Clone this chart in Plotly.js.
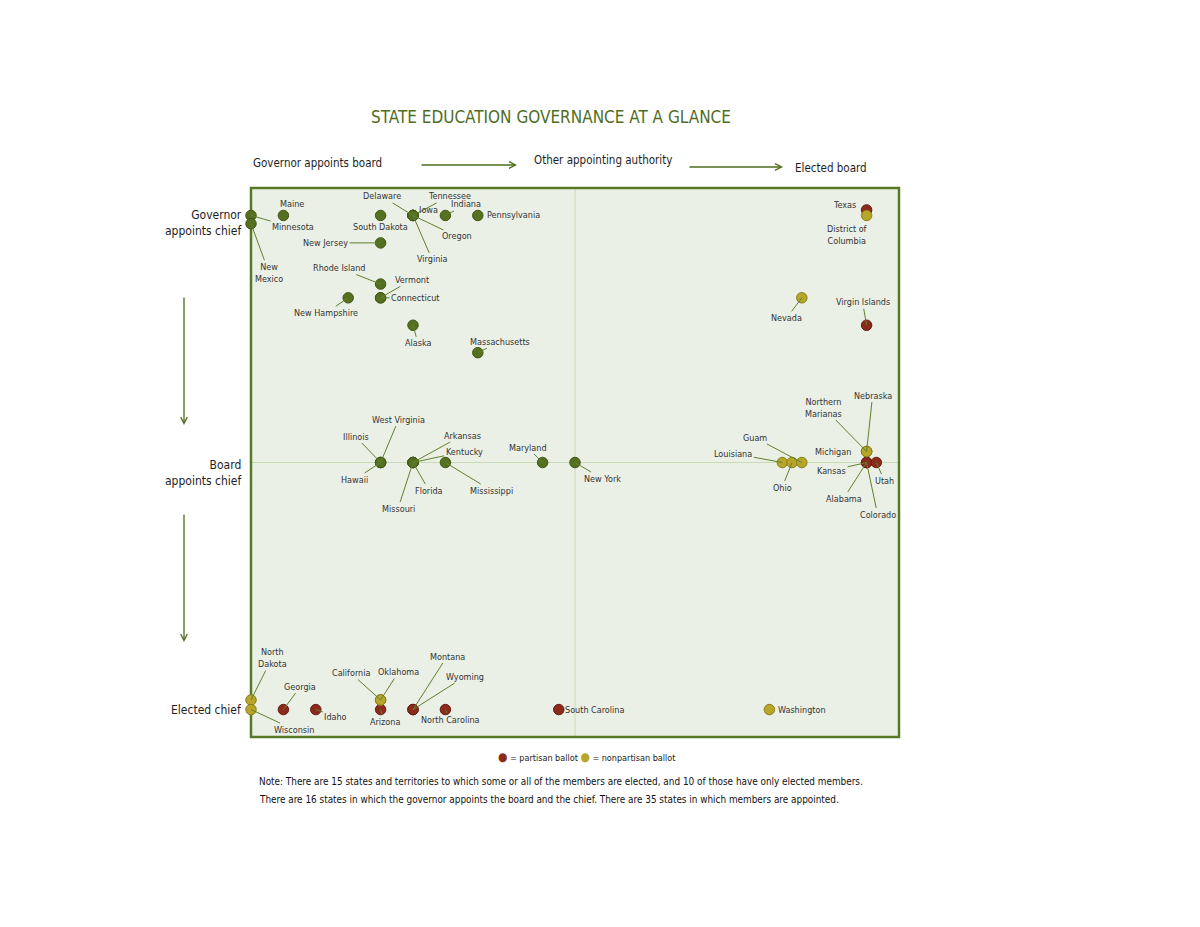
<!DOCTYPE html>
<html><head><meta charset="utf-8">
<script src="https://cdn.plot.ly/plotly-3.0.1.min.js"></script>
<style>html,body{margin:0;padding:0;background:#fff}</style>
</head><body>
<div id="chart" style="width:1200px;height:927px"></div>
<script>
// ---------------- DATA ----------------
const states = ['Minnesota','New Mexico','Maine','South Dakota','Delaware','Tennessee','Iowa','Oregon','Virginia','Indiana',
  'Pennsylvania','New Jersey','Rhode Island','Vermont','Connecticut','New Hampshire','Alaska','Massachusetts',
  'Illinois','West Virginia','Hawaii','Arkansas','Kentucky','Florida','Missouri','Mississippi','Maryland','New York',
  'Texas','Virgin Islands','Kansas','Alabama','Colorado','Utah','Georgia','Idaho','Arizona','Montana','Wyoming',
  'North Carolina','South Carolina',
  'District of Columbia','Nevada','Louisiana','Ohio','Guam','Michigan','Northern Marianas','Nebraska',
  'North Dakota','Wisconsin','California','Oklahoma','Washington'];
// board selection scale: 0 = governor appoints board ... 10 = other authority ... 20 = elected board
const boardPosition = [0,0,1,4,5,5,5,5,5,6,
  7,4,4,4,4,3,5,7,
  4,4,4,5,5,5,5,6,9,10,
  19,19,19,19,19,19.3,1,2,4,5,5,
  6,9.5,
  19,17,16.4,16.7,17,19,19,19,
  0,0,4,4,16];
// chief selection scale: 20 = governor appoints chief ... 10 = board appoints ... 0 = elected chief
const chiefPosition = [19,18.7,19,19,19,19,19,19,19,19,
  19,18,16.5,16,16,16,15,14,
  10,10,10,10,10,10,10,10,10,10,
  19.2,15,10,10,10,10,1,1,1,1,1,
  1,1,
  19,16,10,10,10,10.4,10.4,10.4,
  1.35,1,1.35,1.35,1];
const ballotType = ['A','A','A','A','A','A','A','A','A','A',
  'A','A','A','A','A','A','A','A',
  'A','A','A','A','A','A','A','A','A','A',
  'P','P','P','P','P','P','P','P','P','P','P',
  'P','P',
  'N','N','N','N','N','N','N','N',
  'N','N','N','N','N'];
const titleText = 'STATE EDUCATION GOVERNANCE AT A GLANCE';
const columnLabels = ['Governor appoints board','Other appointing authority','Elected board'];
const rowLabels = ['Governor<br>appoints chief','Board<br>appoints chief','Elected chief'];
const legendLabels = ['= partisan ballot','= nonpartisan ballot'];
const noteLines = ['Note: There are 15 states and territories to which some or all of the members are elected, and 10 of those have only elected members.',
  'There are 16 states in which the governor appoints the board and the chief. There are 35 states in which members are appointed.'];
const displayName = {'New Mexico':'New<br>Mexico','District of Columbia':'District of<br>Columbia',
  'Northern Marianas':'Northern<br>Marianas','North Dakota':'North<br>Dakota'};

// ---------------- LAYOUT (label placement in pixels: dx, dy, leader line) ----------------
const labelPlacement = {
 'Minnesota':[42,12,1],'New Mexico':[18,49,1],'Maine':[9,-11,0],'South Dakota':[0,12,0],'Delaware':[-31,-19,1],
 'Tennessee':[36,-19,1],'Iowa':[15,-5,0],'Oregon':[44,21,1],'Virginia':[19,44,1],'Indiana':[21,-11,1],
 'Pennsylvania':[36,0,0],'New Jersey':[-55,0,1],'Rhode Island':[-41,-16,1],'Vermont':[31,-18,1],'Connecticut':[35,0,1],
 'New Hampshire':[-22,15,1],'Alaska':[5,18,1],'Massachusetts':[22,-11,1],
 'Illinois':[-25,-26,1],'West Virginia':[18,-43,1],'Hawaii':[-26,17,1],'Arkansas':[49,-27,1],'Kentucky':[51,-11,1],
 'Florida':[16,28,1],'Missouri':[-15,46,1],'Mississippi':[46,28,1],'Maryland':[-15,-15,1],'New York':[27,16,1],
 'Texas':[-22,-5,0],'Virgin Islands':[-4,-23,1],'Kansas':[-35,8,1],'Alabama':[-23,36,1],'Colorado':[11,52,1],
 'Utah':[8,18,1],'Georgia':[17,-23,1],'Idaho':[20,7,1],'Arizona':[4,12,1],'Montana':[34,-53,1],'Wyoming':[52,-33,1],
 'North Carolina':[5,10,1],'South Carolina':[36,0,0],
 'District of Columbia':[-20,20,0],'Nevada':[-15,20,1],'Louisiana':[-49,-9,1],'Ohio':[-10,25,1],'Guam':[-47,-25,1],
 'Michigan':[-34,0,0],'Northern Marianas':[-43,-44,1],'Nebraska':[6,-56,1],
 'North Dakota':[21,-42,1],'Wisconsin':[43,20,1],'California':[-30,-27,1],'Oklahoma':[18,-28,1],'Washington':[33,0,0]
};

const NARROW = '"DejaVu Sans Condensed", "Liberation Sans Narrow", "DejaVu Sans", sans-serif';
const GREEN = '#587a27';
const styles = {
  A:{fill:'#55701f', line:'#415617', name:'appointed board'},
  P:{fill:'#8c2a1c', line:'#641c12', name:'partisan ballot'},
  N:{fill:'#b8a62a', line:'#8a7c18', name:'nonpartisan ballot'}
};

// plot box in pixels
const L = 251, R = 899, T = 188, B = 737;
const px = (x) => (x - L) / (R - L);
const py = (y) => (B - y) / (B - T);

const traces = ['A','P','N'].map(k => {
  const idx = states.map((s,i)=>i).filter(i => ballotType[i] === k);
  return {
    type:'scatter', mode:'markers',
    x: idx.map(i => boardPosition[i]), y: idx.map(i => chiefPosition[i]),
    text: idx.map(i => states[i]), hoverinfo:'text', cliponaxis:false, showlegend:false,
    name: styles[k].name,
    marker:{size:10.5, color:styles[k].fill, line:{color:styles[k].line, width:1}}
  };
});

const annotations = [];
const labelFont = {family:NARROW, size:9, color:'#333333'};
states.forEach((s,i) => {
  const p = labelPlacement[s];
  const t = displayName[s] || s;
  if (p[2]) {
    annotations.push({x:boardPosition[i], y:chiefPosition[i], xref:'x', yref:'y', text:t,
      showarrow:true, arrowhead:0, arrowwidth:1, arrowcolor:'#5f8030', ax:p[0], ay:p[1], standoff:0,
      font:labelFont, align:'center', borderpad:1});
  } else {
    annotations.push({x:boardPosition[i], y:chiefPosition[i], xref:'x', yref:'y', text:t,
      showarrow:false, xshift:p[0], yshift:-p[1], font:labelFont, align:'center'});
  }
});

const headFont = {family:NARROW, size:11.5, color:'#1e1e1e'};
// column headings
[[columnLabels[0],251,163],[columnLabels[1],532,160],[columnLabels[2],793,168]].forEach(c => {
  annotations.push({xref:'paper', yref:'paper', x:px(c[1]), y:py(c[2]), xanchor:'left', yanchor:'middle',
    text:c[0], showarrow:false, font:headFont});
});
// row headings
[[rowLabels[0],223],[rowLabels[1],473],[rowLabels[2],710]].forEach(r => {
  annotations.push({xref:'paper', yref:'paper', x:px(244), y:py(r[1]), xanchor:'right', yanchor:'middle',
    text:r[0], align:'right', showarrow:false, font:{family:NARROW, size:12, color:'#1e1e1e'}});
});
// direction arrows
[[517,165,-97,0],[783,167,-95,0],[184,425,0,-129],[184,642,0,-129]].forEach(a => {
  annotations.push({xref:'paper', yref:'paper', x:px(a[0]), y:py(a[1]), ax:a[2], ay:a[3], text:'',
    showarrow:true, arrowhead:5, arrowsize:1, arrowwidth:1.3, arrowcolor:'#4f6d1f', standoff:0});
});
// legend
annotations.push({xref:'paper', yref:'paper', x:px(496), y:py(757), xanchor:'left', yanchor:'middle', showarrow:false,
  text:'<span style="color:'+styles.P.fill+';font-size:12px">●</span> '+legendLabels[0]+' <span style="color:'+styles.N.fill+';font-size:12px">●</span> '+legendLabels[1],
  font:{family:NARROW, size:9, color:'#222'}});
// note
noteLines.forEach((n,i) => {
  annotations.push({xref:'paper', yref:'paper', x:px(257), y:py(781 + i*18), xanchor:'left', yanchor:'middle',
    showarrow:false, text:n, font:{family:NARROW, size:9.9, color:'#111'}});
});

const layout = {
  width:1200, height:927,
  margin:{l:L, r:1200-R, t:T, b:927-B, pad:0},
  paper_bgcolor:'#ffffff', plot_bgcolor:'#ebf0e6',
  title:{text:titleText, xref:'paper', x:px(551), xanchor:'center', yref:'container', y:1-117/927, yanchor:'middle',
    font:{family:NARROW, size:17, color:'#4f6d1f'}},
  xaxis:{range:[0,20], visible:false, fixedrange:true},
  yaxis:{range:[0,20], visible:false, fixedrange:true},
  shapes:[
    {type:'line', xref:'x', yref:'paper', x0:10, x1:10, y0:0, y1:1, line:{color:'#c8dbb4', width:1}, layer:'below'},
    {type:'line', xref:'paper', yref:'y', x0:0, x1:1, y0:10, y1:10, line:{color:'#c8dbb4', width:1}, layer:'below'},
    {type:'rect', xref:'paper', yref:'paper', x0:0, x1:1, y0:0, y1:1, line:{color:GREEN, width:2.5}, layer:'below'}
  ],
  annotations:annotations,
  showlegend:false
};

Plotly.newPlot('chart', traces, layout, {displayModeBar:false, staticPlot:true});
</script>
</body></html>
